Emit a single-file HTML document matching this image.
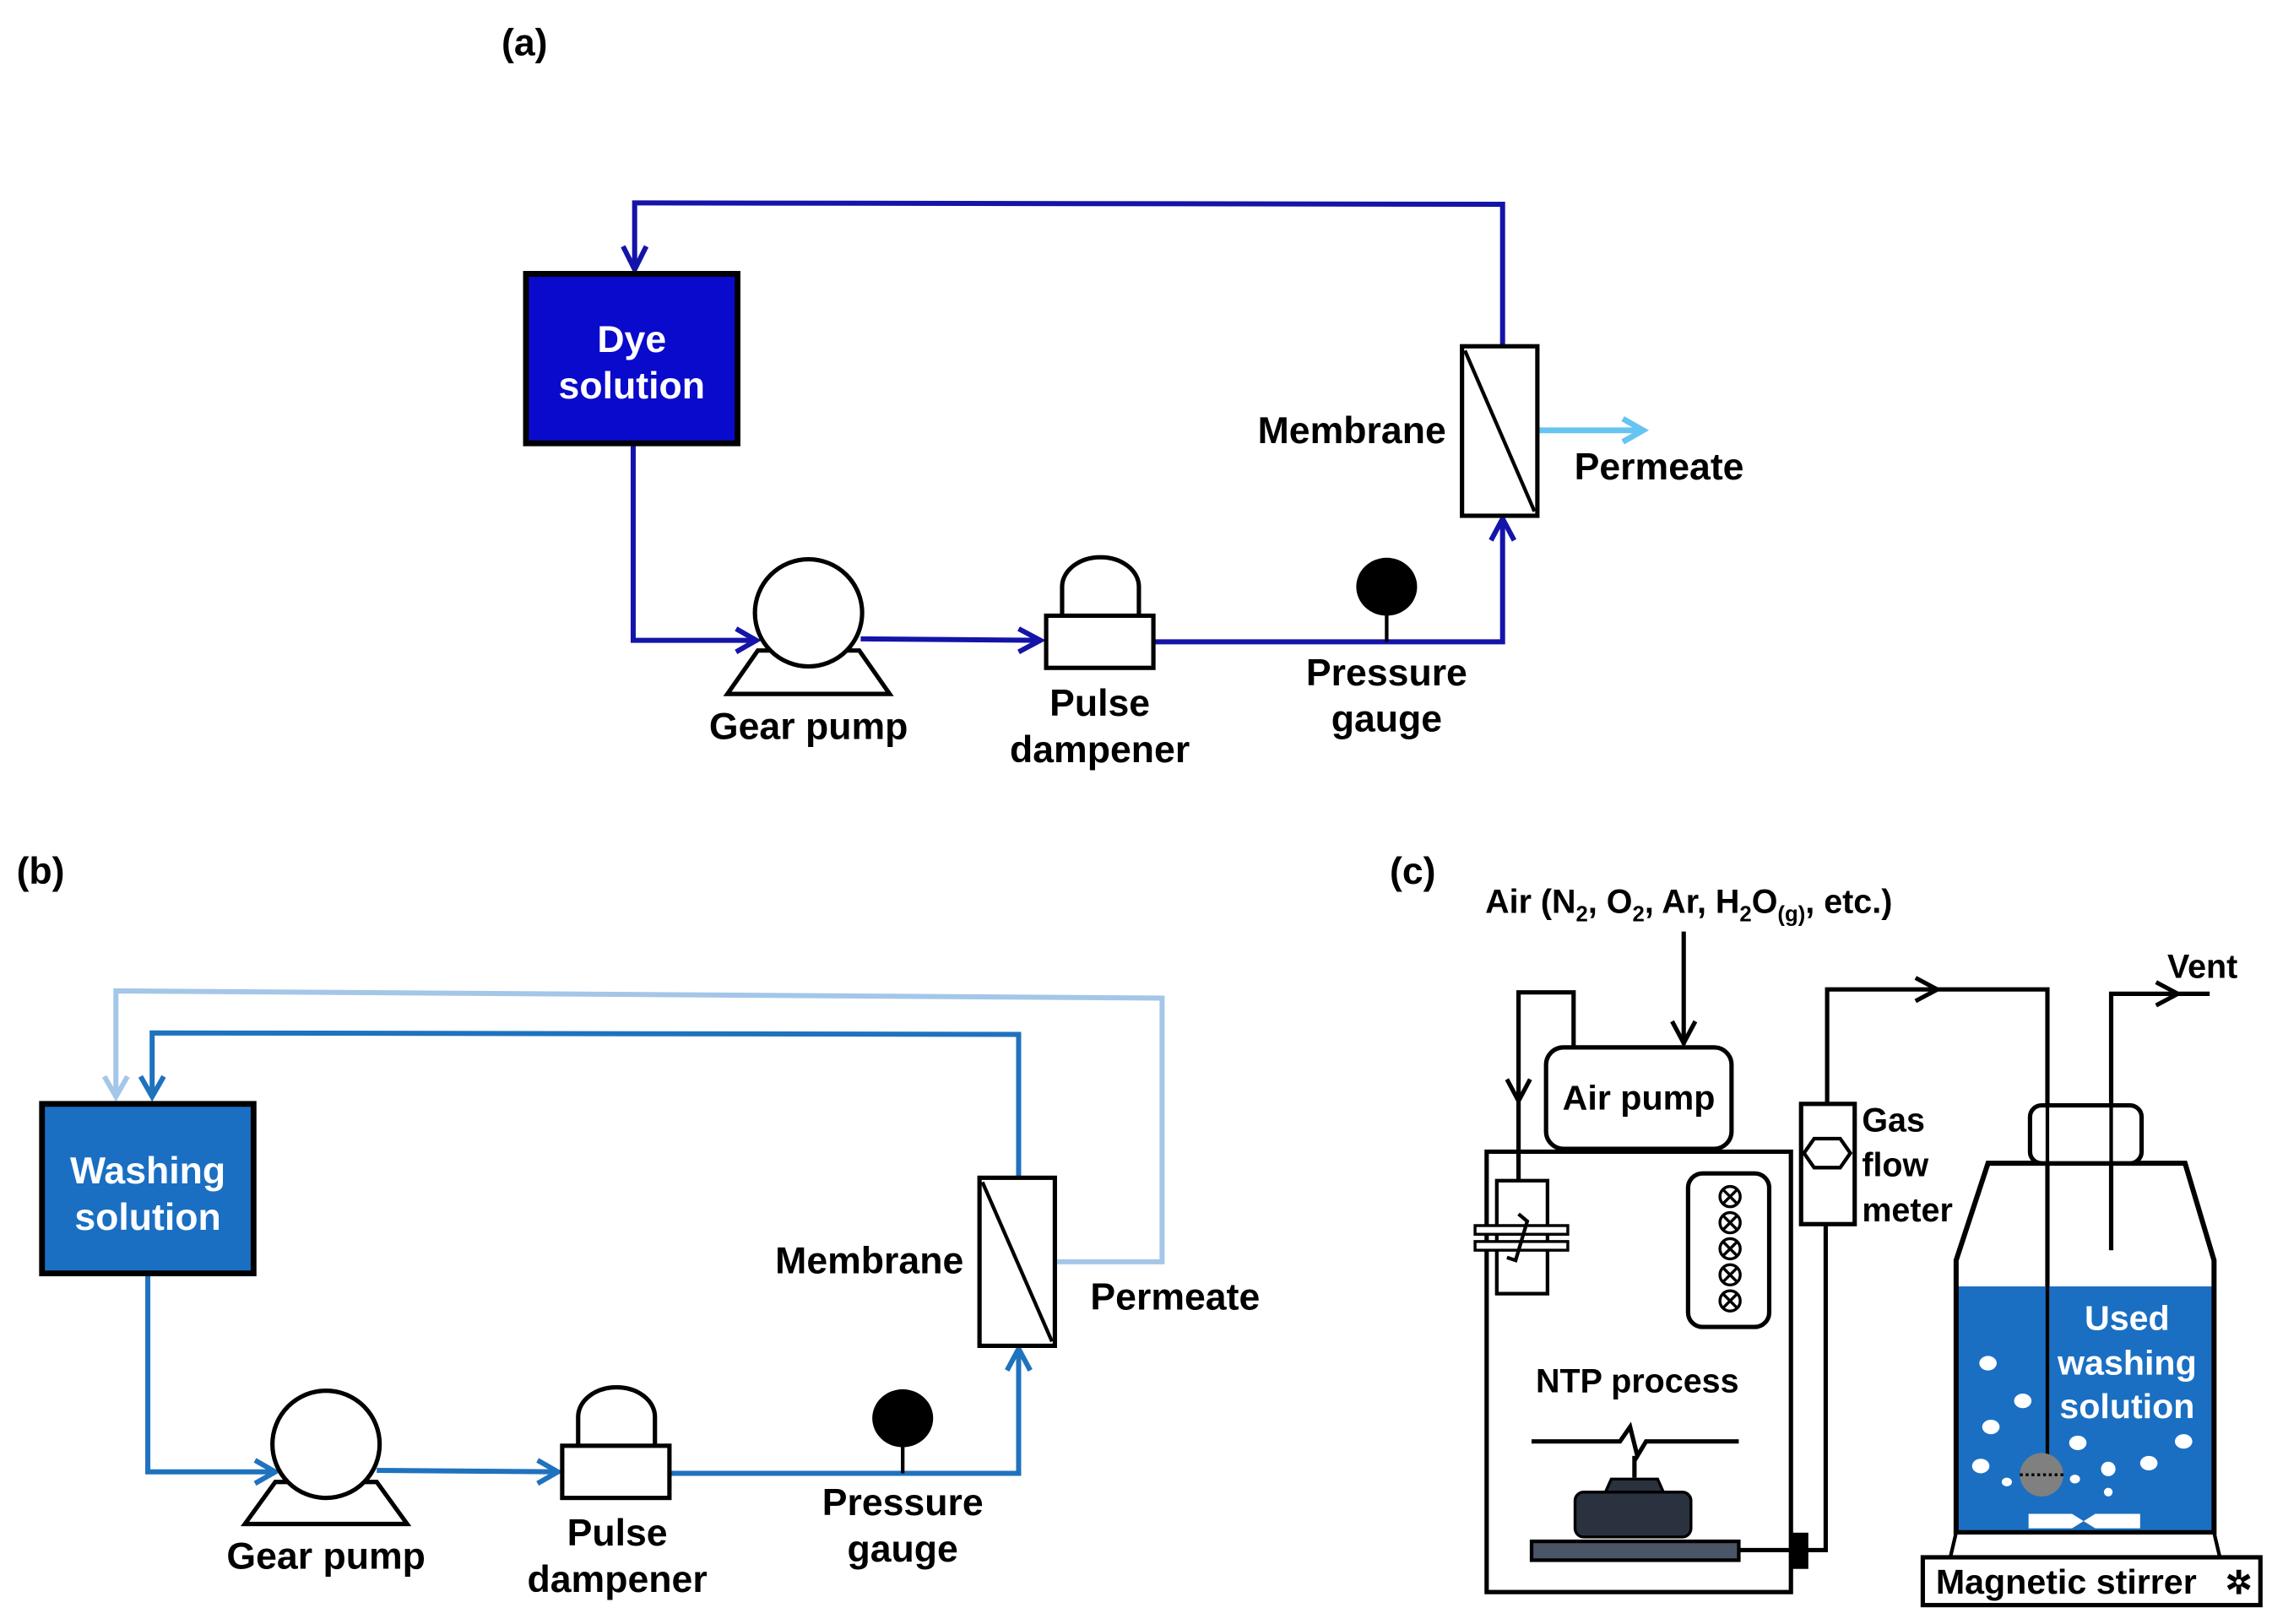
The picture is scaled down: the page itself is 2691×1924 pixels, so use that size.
<!DOCTYPE html>
<html><head><meta charset="utf-8"><style>html,body{margin:0;padding:0;background:#fff}svg{display:block}text{font-family:"Liberation Sans",Arial,sans-serif;font-weight:bold}</style></head><body>
<svg width="2691" height="1924" viewBox="0 0 1568 1121" xmlns="http://www.w3.org/2000/svg">
<g fill="#000" font-size="26" text-anchor="middle">
<text x="362" y="38">(a)</text>
<text x="28" y="610">(b)</text>
<text x="975" y="610">(c)</text>
</g>
<!-- (a) -->
<g fill="none" stroke="#1414a8" stroke-width="3.5">
<polyline points="438,186 438,140 1037,141 1037,238"/>
<path d="M430,170 L438,186 L446,170"/>
<polyline points="437,307 437,442 522,442"/>
<path d="M508,434 L522,442 L508,450"/>
<polyline points="594,441 718,442"/>
<path d="M703,434 L718,442 L703,450"/>
<polyline points="796,443 1037,443 1037,358"/>
<path d="M1029,373 L1037,358 L1045,373"/>
</g>
<g fill="none" stroke="#66c4f2" stroke-width="4"><line x1="1062" y1="297" x2="1134" y2="297"/><path d="M1120,289 L1134,297 L1120,305"/></g>
<rect x="363" y="189" width="146" height="117" fill="#0a0acc" stroke="#000" stroke-width="4"/>
<text x="436" y="243" fill="#fff" font-size="26" text-anchor="middle">Dye</text>
<text x="436" y="275" fill="#fff" font-size="26" text-anchor="middle">solution</text>
<rect x="1009" y="239" width="52" height="117" fill="#fff" stroke="#000" stroke-width="3"/>
<line x1="1011" y1="242" x2="1059" y2="353" stroke="#000" stroke-width="2.5"/>
<polygon points="523,449 593,449 614,479 502,479" fill="#fff" stroke="#000" stroke-width="3"/>
<circle cx="558" cy="423" r="37" fill="#fff" stroke="#000" stroke-width="3"/>
<path d="M733,425 L733,405 A26,20 0 0 1 786,405 L786,425" fill="#fff" stroke="#000" stroke-width="3"/>
<rect x="722" y="425" width="74" height="36" fill="#fff" stroke="#000" stroke-width="3"/>
<line x1="957" y1="410" x2="957" y2="443" stroke="#000" stroke-width="2.5"/>
<ellipse cx="957" cy="405" rx="21" ry="20" fill="#000"/>
<g fill="#000" font-size="26" text-anchor="middle">
<text x="933" y="306">Membrane</text>
<text x="1145" y="331">Permeate</text>
<text x="558" y="510">Gear pump</text>
<text x="759" y="494">Pulse</text>
<text x="759" y="526">dampener</text>
<text x="957" y="473">Pressure</text>
<text x="957" y="505">gauge</text>
</g>
<!-- (b) -->
<g fill="none" stroke="#a4c6e8" stroke-width="3.5">
<polyline points="80,757 80,684 802,689 802,871 729,871"/>
<path d="M72,743 L80,757 L88,743"/>
</g>
<g fill="none" stroke="#1f72bd" stroke-width="3.5">
<polyline points="105,757 105,713 703,714 703,812"/>
<path d="M97,743 L105,757 L113,743"/>
<polyline points="102,880 102,1016 190,1016"/>
<path d="M176,1008 L190,1016 L176,1024"/>
<polyline points="260,1015 385,1016"/>
<path d="M371,1008 L385,1016 L371,1024"/>
<polyline points="462,1017 703,1017 703,931"/>
<path d="M695,946 L703,931 L711,946"/>
</g>
<rect x="29" y="762" width="146" height="117" fill="#1a6fc2" stroke="#000" stroke-width="4"/>
<text x="102" y="817" fill="#fff" font-size="26" text-anchor="middle">Washing</text>
<text x="102" y="849" fill="#fff" font-size="26" text-anchor="middle">solution</text>
<rect x="676" y="813" width="52" height="116" fill="#fff" stroke="#000" stroke-width="3"/>
<line x1="678" y1="816" x2="726" y2="926" stroke="#000" stroke-width="2.5"/>
<polygon points="190,1023 260,1023 281,1052 169,1052" fill="#fff" stroke="#000" stroke-width="3"/>
<circle cx="225" cy="997" r="37" fill="#fff" stroke="#000" stroke-width="3"/>
<path d="M399,998 L399,978 A26,20 0 0 1 452,978 L452,998" fill="#fff" stroke="#000" stroke-width="3"/>
<rect x="388" y="998" width="74" height="36" fill="#fff" stroke="#000" stroke-width="3"/>
<line x1="623" y1="985" x2="623" y2="1017" stroke="#000" stroke-width="2.5"/>
<ellipse cx="623" cy="979" rx="21" ry="20" fill="#000"/>
<g fill="#000" font-size="26" text-anchor="middle">
<text x="600" y="879">Membrane</text>
<text x="811" y="904">Permeate</text>
<text x="225" y="1083">Gear pump</text>
<text x="426" y="1067">Pulse</text>
<text x="426" y="1099">dampener</text>
<text x="623" y="1046">Pressure</text>
<text x="623" y="1078">gauge</text>
</g>
<!-- (c) -->
<text x="1025" y="630" font-size="23" fill="#000">Air (N<tspan font-size="15" dy="6">2</tspan><tspan dy="-6">, O</tspan><tspan font-size="15" dy="6">2</tspan><tspan dy="-6">, Ar, H</tspan><tspan font-size="15" dy="6">2</tspan><tspan dy="-6">O</tspan><tspan font-size="15" dy="6">(g)</tspan><tspan dy="-6">, etc.)</tspan></text>
<g fill="none" stroke="#000" stroke-width="3">
<line x1="1162" y1="643" x2="1162" y2="721"/><path d="M1154,705 L1162,720 L1170,705"/>
<polyline points="1086,723 1086,685 1048,685 1048,848"/><path d="M1040,745 L1048,760 L1056,745"/>
<rect x="1067" y="723" width="128" height="70" rx="12" fill="#fff"/>
<rect x="1026" y="795" width="210" height="304"/>
<rect x="1165" y="810" width="56" height="106" rx="10"/>
<polyline points="1200,1070 1260,1070 1260,845"/>
<rect x="1243" y="762" width="37" height="83" fill="#fff"/>
<polyline points="1261,762 1261,683 1413,683 1413,1005"/><path d="M1322,675 L1337,683 L1322,691"/>
<polyline points="1457,863 1457,686 1525,686"/><path d="M1488,678 L1503,686 L1488,694"/>
<polyline points="1057,995 1118,995 1125,985 1130,1005 1136,995 1200,995"/>
<line x1="1128" y1="1005" x2="1128" y2="1020"/>
</g>
<rect x="1033" y="815" width="35" height="78" fill="#fff" stroke="#000" stroke-width="2.5"/>
<rect x="1018" y="846" width="64" height="6" fill="#fff" stroke="#000" stroke-width="2"/>
<rect x="1018" y="857" width="64" height="6" fill="#fff" stroke="#000" stroke-width="2"/>
<path d="M1048,838 L1054,843 L1046,870 L1040,868" fill="none" stroke="#000" stroke-width="2.5"/>
<g fill="none" stroke="#000" stroke-width="2">
<g id="ox"><circle cx="1194" cy="826" r="7"/><path d="M1189,821 L1199,831 M1199,821 L1189,831"/></g>
<use href="#ox" y="18"/><use href="#ox" y="36"/><use href="#ox" y="54"/><use href="#ox" y="72"/>
</g>
<polygon points="1252,786 1270,786 1277,796 1270,806 1252,806 1245,796" fill="#fff" stroke="#000" stroke-width="2.5"/>
<text x="1131" y="766" font-size="24" text-anchor="middle">Air pump</text>
<text x="1285" y="781" font-size="23">Gas</text>
<text x="1285" y="812" font-size="23">flow</text>
<text x="1285" y="843" font-size="23">meter</text>
<text x="1130" y="961" font-size="23" text-anchor="middle">NTP process</text>
<polygon points="1108,1030 1112,1021 1144,1021 1148,1030" fill="#2a3240" stroke="#000" stroke-width="2"/>
<rect x="1087" y="1030" width="80" height="31" rx="6" fill="#2a3240" stroke="#000" stroke-width="2"/>
<rect x="1057" y="1064" width="143" height="13" fill="#4a5568" stroke="#000" stroke-width="2.5"/>
<rect x="1236" y="1058" width="12" height="25" fill="#000"/>
<!-- bottle -->
<rect x="1350" y="888" width="178" height="170" fill="#1a6fc2"/>
<polygon points="1372,803 1508,803 1528,870 1528,1058 1350,1058 1350,870" fill="none" stroke="#000" stroke-width="3.5"/>
<rect x="1401" y="763" width="77" height="40" rx="8" fill="#fff" stroke="#000" stroke-width="3"/>
<line x1="1413" y1="683" x2="1413" y2="1005" stroke="#000" stroke-width="2.5"/>
<line x1="1457" y1="763" x2="1457" y2="863" stroke="#000" stroke-width="2.5"/>
<polygon points="1350,1058 1528,1058 1532,1075 1346,1075" fill="#fff" stroke="#000" stroke-width="2.5"/>
<rect x="1327" y="1075" width="233" height="33" fill="#fff" stroke="#000" stroke-width="3"/>
<text x="1336" y="1100" font-size="24">Magnetic stirrer</text>
<text x="1545" y="1100" font-size="22" text-anchor="middle">✲</text>
<g fill="#fff">
<ellipse cx="1372" cy="941" rx="6" ry="5"/><ellipse cx="1396" cy="967" rx="6" ry="5"/><ellipse cx="1374" cy="985" rx="6" ry="5"/>
<ellipse cx="1367" cy="1012" rx="6" ry="5"/><ellipse cx="1385" cy="1023" rx="3.5" ry="3"/><ellipse cx="1434" cy="996" rx="6" ry="5"/>
<ellipse cx="1432" cy="1021" rx="3.5" ry="3"/><ellipse cx="1455" cy="1014" rx="5" ry="5"/><ellipse cx="1455" cy="1030" rx="3" ry="3"/>
<ellipse cx="1483" cy="1010" rx="6" ry="5"/><ellipse cx="1507" cy="995" rx="6" ry="5"/>
<path d="M1400,1045 L1430,1045 L1438,1050 L1446,1045 L1477,1045 L1477,1055 L1446,1055 L1438,1050 L1430,1055 L1400,1055 Z"/>
</g>
<circle cx="1409" cy="1018" r="15" fill="#808080"/>
<line x1="1394" y1="1018" x2="1424" y2="1018" stroke="#000" stroke-width="2" stroke-dasharray="2,2"/>
<g fill="#fff" font-size="24" text-anchor="middle">
<text x="1468" y="918">Used</text>
<text x="1468" y="949">washing</text>
<text x="1468" y="979">solution</text>
</g>
<text x="1520" y="675" font-size="23" text-anchor="middle">Vent</text>
</svg>
</body></html>
